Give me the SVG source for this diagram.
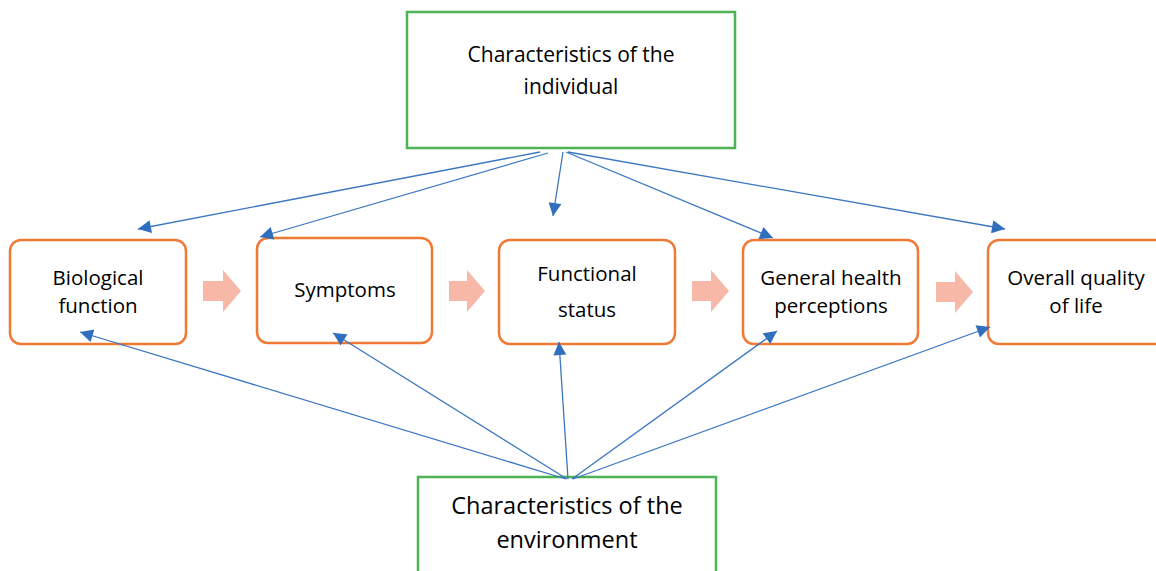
<svg xmlns="http://www.w3.org/2000/svg" width="1156" height="571" viewBox="0 0 1156 571">
<defs>
<style>
.green{fill:#fff;stroke:#4DB456;stroke-width:2.5}
.orange{fill:#fff;stroke:#F07A35;stroke-width:2.5}
.t{font-family:"Open Sans","Liberation Sans",sans-serif;font-size:20.5px;fill:#000;text-anchor:middle}
.tb{font-family:"Open Sans","Liberation Sans",sans-serif;font-size:21px;fill:#000;text-anchor:middle}
.te{font-family:"Open Sans","Liberation Sans",sans-serif;font-size:23.5px;fill:#000;text-anchor:middle}
.c{stroke:#3B76C0;stroke-width:1.3;fill:none;marker-end:url(#ah)}
.fat{fill:#F8B8A7}
</style>
<marker id="ah" viewBox="0 0 10 10" refX="10" refY="5" markerWidth="14" markerHeight="13" markerUnits="userSpaceOnUse" orient="auto">
<path d="M0,0 L10,5 L0,10 Z" fill="#2F6FBE"/>
</marker>
</defs>
<g id="individual">
<rect class="green" x="407" y="12" width="328" height="136"/>
<text class="tb" x="571" y="62">Characteristics of the</text>
<text class="tb" x="571" y="94">individual</text>
</g>
<g id="environment">
<rect class="green" x="418" y="477" width="298" height="110"/>
<text class="te" x="567" y="514">Characteristics of the</text>
<text class="te" x="567" y="548">environment</text>
</g>
<g id="biological">
<rect class="orange" x="10" y="240" width="176" height="104" rx="11"/>
<text class="t" x="98" y="285">Biological</text>
<text class="t" x="98" y="313">function</text>
</g>
<g id="symptoms">
<rect class="orange" x="257" y="238" width="175" height="105" rx="11"/>
<text class="t" x="345" y="297">Symptoms</text>
</g>
<g id="functional">
<rect class="orange" x="499" y="240" width="176" height="104" rx="11"/>
<text class="t" x="587" y="281">Functional</text>
<text class="t" x="587" y="317">status</text>
</g>
<g id="general">
<rect class="orange" x="743" y="240" width="175" height="104" rx="11"/>
<text class="t" x="831" y="285">General health</text>
<text class="t" x="831" y="313">perceptions</text>
</g>
<g id="overall">
<rect class="orange" x="988" y="240" width="180" height="104" rx="11"/>
<text class="t" x="1076" y="285">Overall quality</text>
<text class="t" x="1076" y="313">of life</text>
</g>
<g id="flow-arrows">
<path class="fat" d="M203,281 H223 V270 L241,291 L223,312 V301 H203 Z"/>
<path class="fat" d="M449,281 H467 V270 L485,291 L467,312 V301 H449 Z"/>
<path class="fat" d="M692,281 H711 V270 L729,291 L711,312 V301 H692 Z"/>
<path class="fat" d="M936,282 H955 V271 L973,292 L955,313 V302 H936 Z"/>
</g>
<g id="connectors">
<line class="c" x1="540" y1="152" x2="138" y2="229"/>
<line class="c" x1="548" y1="153" x2="260" y2="237"/>
<line class="c" x1="563" y1="152" x2="553" y2="216"/>
<line class="c" x1="566" y1="152" x2="773" y2="238"/>
<line class="c" x1="568" y1="152" x2="1005" y2="229"/>
<line class="c" x1="566" y1="479" x2="80" y2="332"/>
<line class="c" x1="567" y1="479" x2="333" y2="333"/>
<line class="c" x1="568" y1="479" x2="559" y2="342"/>
<line class="c" x1="572" y1="479" x2="777" y2="331"/>
<line class="c" x1="573" y1="479" x2="990" y2="327"/>
</g>
</svg>
